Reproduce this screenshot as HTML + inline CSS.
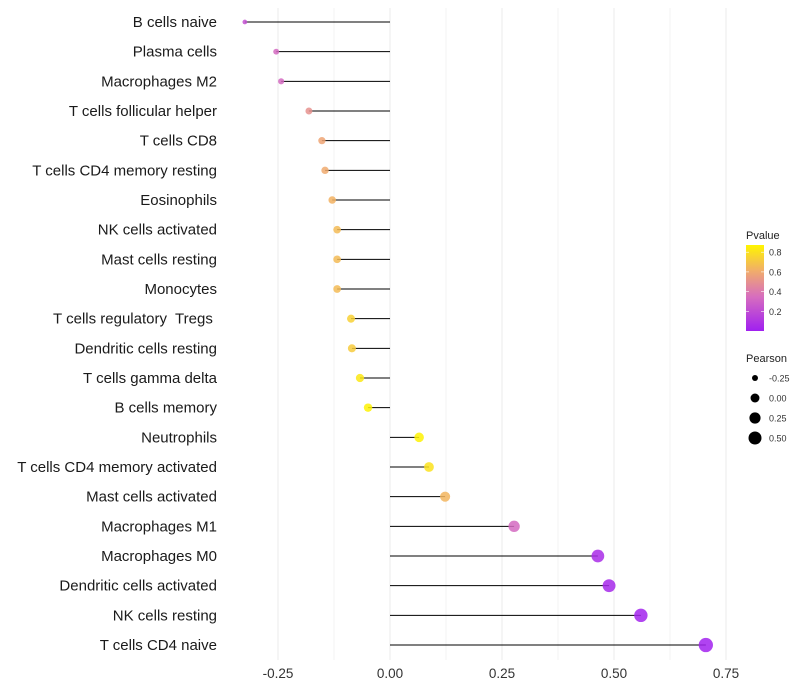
<!DOCTYPE html>
<html><head><meta charset="utf-8"><style>
body{margin:0;background:#fff;font-family:"Liberation Sans",sans-serif}
text{white-space:pre}
</style></head><body>
<svg id="c" width="800" height="700" style="display:block"></svg>
<script>
const categories=["B cells naive","Plasma cells","Macrophages M2","T cells follicular helper","T cells CD8","T cells CD4 memory resting","Eosinophils","NK cells activated","Mast cells resting","Monocytes","T cells regulatory  Tregs ","Dendritic cells resting","T cells gamma delta","B cells memory","Neutrophils","T cells CD4 memory activated","Mast cells activated","Macrophages M1","Macrophages M0","Dendritic cells activated","NK cells resting","T cells CD4 naive"];
const pearson=[-0.324,-0.254,-0.243,-0.181,-0.152,-0.145,-0.129,-0.118,-0.118,-0.118,-0.087,-0.085,-0.067,-0.049,0.065,0.087,0.123,0.277,0.464,0.489,0.560,0.705];
const pvalues=[0.22,0.33,0.33,0.5,0.58,0.6,0.63,0.66,0.66,0.66,0.74,0.72,0.82,0.86,0.86,0.8,0.64,0.33,0.06,0.04,0.02,0.01];
const xTicks=[-0.25,0,0.25,0.5,0.75];
const xTickLabels=["-0.25","0.00","0.25","0.50","0.75"];
const cbTicks=[0.2,0.4,0.6,0.8];
const sizeLegend=[-0.25,0,0.25,0.5];
const NS="http://www.w3.org/2000/svg";
const svg=document.getElementById('c');
const x=v=>390+v*448;
const y=i=>22+i*29.667;
const r=v=>Math.sqrt(Math.max(3,20+44.3*v));
function col(p){const stops=[[0,[160,32,240]],[0.35,[215,110,190]],[0.6,[240,170,110]],[0.87,[255,245,0]]];
 p=Math.max(0,Math.min(0.87,p));for(let k=1;k<stops.length;k++){if(p<=stops[k][0]){const a=stops[k-1],b=stops[k],t=(p-a[0])/(b[0]-a[0]);return 'rgb('+a[1].map((c,j)=>Math.round(c+(b[1][j]-c)*t)).join(',')+')';}}return 'rgb(255,245,0)';}
function el(t,at,txt){const e=document.createElementNS(NS,t);for(const k in at)e.setAttribute(k,at[k]);if(txt!==undefined)e.textContent=txt;svg.appendChild(e);return e;}
[-0.25,-0.125,0,0.125,0.25,0.375,0.5,0.625,0.75].forEach(v=>{const g=el('line',{x1:x(v),x2:x(v),y1:8,y2:660,stroke:'#ebebeb','stroke-width':Math.abs(v*4%1)<1e-6?1:0.6});
});
categories.forEach((c,i)=>{
 const l=el('line',{x1:x(0),x2:x(pearson[i]),y1:y(i),y2:y(i),stroke:'#000','stroke-width':1});
 
 const d=el('circle',{cx:x(pearson[i]),cy:y(i),r:r(pearson[i]),fill:col(pvalues[i]),'fill-opacity':0.85});
 
 const t=el('text',{x:217,y:y(i)+5,'text-anchor':'end','font-size':15,fill:'#1a1a1a'},c);
 
});
xTicks.forEach((v,i)=>{const t=el('text',{x:x(v),y:678,'text-anchor':'middle','font-size':13.5,fill:'#333'},xTickLabels[i]);
});
let t=el('text',{x:746,y:239,'font-size':11,fill:'#222'},'Pvalue');
const defs=el('defs',{});const gr=document.createElementNS(NS,'linearGradient');gr.setAttribute('id','g');gr.setAttribute('x1',0);gr.setAttribute('y1',1);gr.setAttribute('x2',0);gr.setAttribute('y2',0);defs.appendChild(gr);
for(let k=0;k<=10;k++){const s=document.createElementNS(NS,'stop');s.setAttribute('offset',k/10);s.setAttribute('stop-color',col(k*0.087));gr.appendChild(s);}
const cy=p=>331-p*98.5;
let cb=el('rect',{x:746,y:245,width:18,height:86,fill:'url(#g)'});
cbTicks.forEach(p=>{const tl=el('text',{x:769,y:cy(p)+3.5,'font-size':9,fill:'#333'},p.toFixed(1));
el('line',{x1:746,x2:749,y1:cy(p),y2:cy(p),stroke:'#fff','stroke-width':0.6});el('line',{x1:761,x2:764,y1:cy(p),y2:cy(p),stroke:'#fff','stroke-width':0.6});});
t=el('text',{x:746,y:362,'font-size':11,fill:'#222'},'Pearson');
sizeLegend.forEach((v,i)=>{const yy=378+i*20;const d=el('circle',{cx:755,cy:yy,r:r(v),fill:'#000'});
const tl=el('text',{x:769,y:yy+3.5,'font-size':9,fill:'#333'},v.toFixed(2));});
</script>
</body></html>
